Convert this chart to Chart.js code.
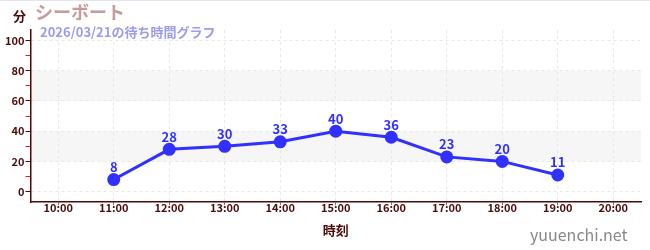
<!DOCTYPE html>
<html>
<head>
<meta charset="utf-8">
<script src="https://cdn.jsdelivr.net/npm/chart.js@4"></script>
<style>
  body { margin: 0; background: #fff; }
  #wrap { position: relative; width: 650px; height: 250px; border-top: 1px solid #e4e4f4; box-sizing: border-box; }
  .txt { position: absolute; font-family: "Noto Sans CJK JP", "Noto Sans", sans-serif; font-weight: bold; white-space: nowrap; }
  #unit { left: 13px; top: 5px; font-size: 13px; color: #4d0a0a; }
  #title { left: 35px; top: -3px; font-size: 18px; color: #c99a9a; }
  #sub { left: 40px; top: 21px; font-size: 13px; color: #9b9bef; }
  #site { left: 530px; top: 221px; font-size: 16px; color: #888; font-weight: normal; }
</style>
</head>
<body>
<div id="wrap">
  <canvas id="waitChart" width="650" height="249"></canvas>
  <div class="txt" id="unit">分</div>
  <div class="txt" id="title">シーボート</div>
  <div class="txt" id="sub">2026/03/21の待ち時間グラフ</div>
  <div class="txt" id="site">yuuenchi.net</div>
</div>
<script>
// data
const hours = ['10:00', '11:00', '12:00', '13:00', '14:00', '15:00', '16:00', '17:00', '18:00', '19:00', '20:00'];
const waitMinutes = [null, 8, 28, 30, 33, 40, 36, 23, 20, 11, null];
const yTicks = [0, 10, 20, 30, 40, 50, 60, 70, 80, 90, 100];
const bands = [[20, 40], [60, 80]];

const dark = '#4d0a0a';
const blue = '#3030ff';
const gridGrey = '#e8e8e8';

// shaded bands behind the grid
const bandPlugin = {
  id: 'bands',
  beforeDraw(chart) {
    const { ctx, chartArea, scales } = chart;
    ctx.save();
    ctx.fillStyle = '#f6f6f6';
    bands.forEach(([lo, hi]) => {
      const top = scales.y.getPixelForValue(hi);
      const bottom = scales.y.getPixelForValue(lo);
      ctx.fillRect(chartArea.left, top, chartArea.right - chartArea.left, bottom - top);
    });
    ctx.restore();
  }
};

// value labels above points
const labelPlugin = {
  id: 'valueLabels',
  afterDatasetsDraw(chart) {
    const { ctx } = chart;
    const meta = chart.getDatasetMeta(0);
    ctx.save();
    ctx.fillStyle = blue;
    ctx.font = 'bold 13px "Noto Sans CJK JP", "Noto Sans", sans-serif';
    ctx.textAlign = 'center';
    ctx.textBaseline = 'bottom';
    meta.data.forEach((pt, i) => {
      const v = waitMinutes[i];
      if (v === null) return;
      ctx.fillText(v, pt.x, pt.y - 6);
    });
    ctx.restore();
  }
};

new Chart(document.getElementById('waitChart'), {
  type: 'line',
  data: {
    labels: hours,
    datasets: [{
      data: waitMinutes,
      borderColor: blue,
      backgroundColor: blue,
      borderWidth: 3,
      pointRadius: 5,
      pointHoverRadius: 5,
      spanGaps: false
    }]
  },
  options: {
    responsive: false,
    animation: false,
    layout: { padding: { left: 4, right: 9, top: 29, bottom: 12 } },
    plugins: { legend: { display: false }, tooltip: { enabled: false } },
    scales: {
      x: {
        offset: true,
        grid: {
          offset: false,
          color: gridGrey,
          tickColor: '#777',
          tickLength: 3
        },
        border: { color: dark, width: 1.5, dash: [3, 3] },
        ticks: {
          color: dark,
          font: { family: '"Noto Sans CJK JP", "Noto Sans", sans-serif', size: 11, weight: 'bold' },
          maxRotation: 0,
          autoSkip: false,
          padding: -4
        },
        title: {
          display: true,
          text: '時刻',
          color: dark,
          font: { family: '"Noto Sans CJK JP", sans-serif', size: 13, weight: 'bold' },
          padding: { top: 12, bottom: 0 }
        }
      },
      y: {
        min: -7,
        max: 107,
        afterBuildTicks(scale) {
          scale.ticks = yTicks.map(v => ({ value: v }));
        },
        grid: {
          color: ctx => (ctx.tick && ctx.tick.value % 20 === 0) ? gridGrey : 'rgba(0,0,0,0)',
          tickColor: ctx => (ctx.tick && ctx.tick.value % 20 === 0) ? dark : '#e02020',
          tickLength: 5
        },
        border: { color: dark, width: 1.5, dash: [3, 3] },
        ticks: {
          color: dark,
          font: { family: '"Noto Sans CJK JP", "Noto Sans", sans-serif', size: 11, weight: 'bold' },
          padding: 1,
          callback: v => (v % 20 === 0 ? v : '')
        }
      }
    }
  },
  plugins: [bandPlugin, labelPlugin]
});
</script>
</body>
</html>
